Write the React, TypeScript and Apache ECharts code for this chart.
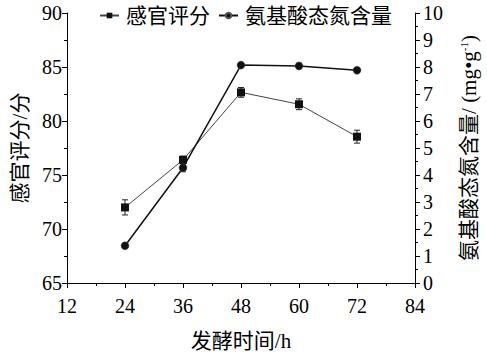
import React, { useEffect, useRef } from "react";
import * as echarts from "echarts";

const hours = [24, 36, 48, 60, 72];
const sensoryScore = [72.0, 76.4, 82.65, 81.55, 78.55];
const sensoryErr = [0.7, 0.35, 0.45, 0.5, 0.6];
const aminoN = [1.38, 4.27, 8.07, 8.04, 7.88];
const aminoErr = [0.07, 0.15, 0.07, 0.1, 0.08];

const FONT = "'Liberation Serif', 'Times New Roman', 'Noto Sans CJK SC', serif";

function errorSeries(values: number[], errs: number[], yAxisIndex: number, name: string) {
  return {
    type: "custom",
    name: name + "-err",
    yAxisIndex,
    silent: true,
    z: 1,
    data: hours.map((h, i) => [h, values[i] - errs[i], values[i] + errs[i]]),
    renderItem: (params: any, api: any) => {
      const lo = api.coord([api.value(0), api.value(1)]);
      const hi = api.coord([api.value(0), api.value(2)]);
      const w = 3;
      const style = { stroke: "#222", lineWidth: 1 };
      return {
        type: "group",
        children: [
          { type: "line", shape: { x1: lo[0], y1: lo[1], x2: hi[0], y2: hi[1] }, style },
          { type: "line", shape: { x1: lo[0] - w, y1: lo[1], x2: lo[0] + w, y2: lo[1] }, style },
          { type: "line", shape: { x1: hi[0] - w, y1: hi[1], x2: hi[0] + w, y2: hi[1] }, style },
        ],
      };
    },
  };
}

export default function App() {
  const ref = useRef<HTMLDivElement>(null);
  useEffect(() => {
    if (!ref.current) return;
    const chart = echarts.init(ref.current, null, { renderer: "svg" });
    const axisCommon = {
      axisLine: { show: true, lineStyle: { color: "#000", width: 1 } },
      axisTick: { show: true, inside: false, length: 5, lineStyle: { color: "#000" } },
      minorTick: { show: true, splitNumber: 2, length: 3, lineStyle: { color: "#000" } },
      splitLine: { show: false },
      axisLabel: { color: "#000", fontSize: 20, fontFamily: FONT },
      nameTextStyle: { color: "#000", fontSize: 21, fontFamily: FONT },
    };
    chart.setOption({
      animation: false,
      backgroundColor: "#fff",
      textStyle: { fontFamily: FONT },
      legend: {
        top: 0,
        left: 94,
        itemWidth: 19,
        itemHeight: 7,
        itemGap: 8,
        data: ["感官评分", "氨基酸态氮含量"],
        textStyle: { color: "#000", fontSize: 21, fontFamily: FONT, padding: [0, 0, 0, 2] },
      },
      grid: { left: 67, right: 65, top: 13, bottom: 69, containLabel: false },
      xAxis: {
        type: "value",
        min: 12,
        max: 84,
        interval: 12,
        name: "发酵时间/h",
        nameLocation: "middle",
        nameGap: 47,
        ...axisCommon,
        axisLabel: { ...axisCommon.axisLabel, margin: 13 },
      },
      yAxis: [
        {
          type: "value",
          min: 65,
          max: 90,
          interval: 5,
          position: "left",
          name: "感官评分/分",
          nameLocation: "middle",
          nameRotate: 90,
          nameGap: 37,
          ...axisCommon,
          axisLabel: { ...axisCommon.axisLabel, margin: 5 },
        },
        {
          type: "value",
          min: 0,
          max: 10,
          interval: 1,
          position: "right",
          name: "氨基酸态氮含量/ (mg•g{sup|-1})",
          nameLocation: "middle",
          nameRotate: 90,
          nameGap: 43,
          ...axisCommon,
          nameTextStyle: {
            ...axisCommon.nameTextStyle,
            rich: { sup: { fontSize: 11, verticalAlign: "top", fontFamily: FONT, color: "#000", padding: [0, 0, 8, 0] } },
          },
          axisLabel: { ...axisCommon.axisLabel, margin: 8 },
        },
      ],
      series: [
        {
          name: "感官评分",
          type: "line",
          yAxisIndex: 0,
          data: hours.map((h, i) => [h, sensoryScore[i]]),
          symbol: "rect",
          symbolSize: 8,
          itemStyle: { color: "#111" },
          lineStyle: { color: "#444", width: 1 },
          z: 3,
        },
        {
          name: "氨基酸态氮含量",
          type: "line",
          yAxisIndex: 1,
          data: hours.map((h, i) => [h, aminoN[i]]),
          symbol: "circle",
          symbolSize: 8,
          itemStyle: { color: "#111", borderColor: "#555", borderWidth: 0.5 },
          lineStyle: { color: "#111", width: 1.5 },
          z: 3,
        },
        errorSeries(sensoryScore, sensoryErr, 0, "感官评分"),
        errorSeries(aminoN, aminoErr, 1, "氨基酸态氮含量"),
      ],
    });
    return () => chart.dispose();
  }, []);
  return <div ref={ref} style={{ width: 487, height: 356, position: "absolute", left: 0, top: 0 }} />;
}
